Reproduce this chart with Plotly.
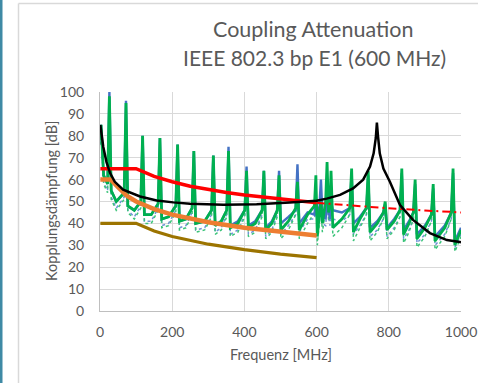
import plotly.graph_objects as go

# ---------------- data ----------------
f_meas = [1, 3, 10, 21, 26, 31, 45, 67, 72, 77, 95, 113, 118, 123, 142, 161, 166, 171, 190, 210,
          215, 220, 238, 255, 260, 265, 290, 309, 314, 319, 336, 351, 356, 361, 382, 401, 406, 411,
          430, 449, 454, 459, 476, 491, 496, 501, 522, 542, 547, 552, 575, 594, 598, 602, 608, 612,
          616, 625, 629, 633, 637, 640, 645, 670, 692, 697, 702, 720, 738, 743, 748, 768, 785, 790,
          795, 815, 831, 836, 841, 856, 868, 873, 878, 900, 918, 923, 928, 955, 973, 978, 983, 1000]

green = [78, 85, 62, 58, 98, 55, 50, 54, 95, 48, 46, 50, 80, 44, 44, 49, 79, 42, 43, 48,
         76, 41, 42, 47, 73, 40, 41, 46, 71, 39, 41, 46, 73, 38, 40, 46, 64, 38,
         40, 46, 64, 37, 40, 46, 62, 37, 41, 47, 59, 37, 44, 48, 62, 34, 45, 50,
         40, 50, 68, 45, 48, 64, 38, 42, 47, 65, 36, 42, 47, 64, 36, 40, 45, 50,
         37, 41, 46, 65, 35, 40, 45, 60, 33, 38, 44, 58, 32, 38, 45, 65, 30, 37]

blue = [78, 85, 62, 58, 100, 55, 50, 54, 96, 48, 46, 50, 80, 44, 44, 49, 79, 42, 43, 48,
        76, 41, 42, 47, 73, 40, 41, 46, 71, 39, 41, 46, 75, 39, 41, 46, 66, 39,
        41, 46, 64, 38, 41, 46, 64, 40, 43, 46, 67, 40, 45, 44, 50, 42, 48, 60,
        44, 42, 50, 46, 42, 50, 46, 45, 47, 63, 40, 43, 47, 62, 38, 41, 45, 49,
        38, 42, 46, 63, 37, 41, 45, 58, 35, 39, 44, 56, 34, 39, 45, 63, 32, 38]

green_dot = [76, 83, 58, 54, 95, 51, 46, 51, 92, 45, 42, 47, 77, 40, 40, 46, 76, 38, 39, 45,
             73, 37, 38, 44, 70, 36, 37, 43, 68, 35, 37, 43, 70, 34, 36, 43, 61, 34,
             36, 43, 61, 33, 36, 43, 59, 33, 37, 44, 56, 33, 40, 45, 59, 30, 41, 47,
             36, 46, 65, 41, 44, 61, 34, 38, 44, 62, 32, 38, 44, 61, 32, 36, 42, 47,
             33, 37, 43, 62, 31, 36, 42, 57, 29, 34, 41, 55, 28, 34, 42, 62, 27, 34]

blue_dot = [76, 83, 59, 55, 96, 52, 47, 52, 93, 46, 43, 48, 78, 41, 41, 47, 77, 39, 40, 46,
            74, 38, 39, 45, 71, 37, 38, 44, 69, 36, 38, 44, 72, 35, 37, 44, 63, 35,
            37, 44, 62, 34, 37, 44, 61, 35, 39, 44, 64, 36, 42, 42, 48, 38, 45, 57,
            40, 39, 47, 43, 39, 47, 42, 41, 44, 60, 35, 39, 44, 59, 34, 37, 42, 46,
            34, 38, 43, 60, 33, 37, 42, 55, 31, 35, 41, 53, 30, 35, 42, 60, 29, 35]

f_red = [1, 100, 150, 200, 250, 300, 350, 400, 450, 500, 550, 600]
red = [65, 65, 61.5, 59, 57, 55.5, 54.1, 53, 52, 51, 50.2, 49.4]

f_red_dash = [600, 700, 800, 900, 1000]
red_dash = [49.4, 48.1, 46.9, 45.9, 45]

f_orange = [1, 30, 50, 75, 100, 150, 200, 300, 400, 500, 600]
orange = [60, 60, 56.5, 52.5, 50, 46.5, 44, 40.5, 38, 36, 34.5]

f_brown = [1, 100, 150, 200, 300, 400, 500, 600]
brown = [40, 40, 36.5, 34, 30.5, 28, 26, 24.4]

f_black = [1, 9, 18, 28, 41, 64, 111, 157, 203, 249, 342, 434, 526, 600, 628, 665, 701, 729,
           748, 758, 764, 767, 770, 775, 785, 803, 831, 867, 914, 961, 997, 1000]
black = [85, 75, 68, 63, 59, 55.4, 52.3, 50.5, 49.6, 49, 48.5, 48.8, 49.6, 50.3, 51.3, 53, 56, 60,
         66, 72, 79, 86, 80, 72, 65, 59, 48.4, 41.6, 35.6, 32.4, 31.5, 31.4]

x_ticks = [0, 200, 400, 600, 800, 1000]
y_ticks = [0, 10, 20, 30, 40, 50, 60, 70, 80, 90, 100]

title_lines = ["Coupling Attenuation", "IEEE 802.3 bp E1 (600 MHz)"]
x_title = "Frequenz [MHz]"
y_title = "Kopplungsdämpfung [dB]"

# ---------------- figure ----------------
FONT = "Lato, 'Open Sans', sans-serif"
TXT = "#595959"

fig = go.Figure()
fig.add_trace(go.Scatter(x=f_meas, y=blue_dot, mode="lines",
                         line=dict(color="#6f93d6", width=1.5, dash="dot")))
fig.add_trace(go.Scatter(x=f_meas, y=green_dot, mode="lines",
                         line=dict(color="#3cc47a", width=1.5, dash="dot")))
fig.add_trace(go.Scatter(x=f_meas, y=blue, mode="lines",
                         line=dict(color="#4472c4", width=2.4)))
fig.add_trace(go.Scatter(x=f_meas, y=green, mode="lines",
                         line=dict(color="#00b050", width=2.8)))
fig.add_trace(go.Scatter(x=f_red, y=red, mode="lines",
                         line=dict(color="#ff0000", width=3.5)))
fig.add_trace(go.Scatter(x=f_red_dash, y=red_dash, mode="lines",
                         line=dict(color="#ff0000", width=2, dash="8px,4px,2px,4px")))
fig.add_trace(go.Scatter(x=f_brown, y=brown, mode="lines",
                         line=dict(color="#9c7400", width=3.2)))
fig.add_trace(go.Scatter(x=f_orange, y=orange, mode="lines",
                         line=dict(color="#ed7d31", width=4.5)))
fig.add_trace(go.Scatter(x=f_black, y=black, mode="lines",
                         line=dict(color="#000000", width=2.5)))

W, H = 478, 383
L, R, T, B = 100, 17, 92, 72
pw, ph = W - L - R, H - T - B


def px(xp):
    return (xp - L) / pw


def py(yp):
    return (H - B - yp) / ph


shapes = [
    dict(type="rect", xref="paper", yref="paper", x0=px(0), x1=px(2.5), y0=py(H), y1=py(0),
         fillcolor="#3f8aa5", line=dict(width=0), layer="below"),
    dict(type="line", xref="paper", yref="paper", x0=px(18.5), x1=px(W + 5), y0=py(3.5), y1=py(3.5),
         line=dict(color="#d9d9d9", width=1.5)),
    dict(type="line", xref="paper", yref="paper", x0=px(18.5), x1=px(18.5), y0=py(3.5), y1=py(H + 5),
         line=dict(color="#d9d9d9", width=1.5)),
]

annotations = [
    dict(text=title_lines[0], xref="paper", yref="paper", x=px(313), y=py(29),
         xanchor="center", yanchor="middle", showarrow=False,
         font=dict(family=FONT, size=21.5, color=TXT)),
    dict(text=title_lines[1], xref="paper", yref="paper", x=px(314), y=py(58),
         xanchor="center", yanchor="middle", showarrow=False,
         font=dict(family=FONT, size=21, color=TXT)),
    dict(text=x_title, xref="paper", yref="paper", x=px(281), y=py(354),
         xanchor="center", yanchor="middle", showarrow=False,
         font=dict(family=FONT, size=14.5, color=TXT)),
    dict(text=y_title, xref="paper", yref="paper", x=px(51), y=py(201),
         xanchor="center", yanchor="middle", showarrow=False, textangle=-90,
         font=dict(family=FONT, size=14.5, color=TXT)),
]

fig.update_layout(
    width=W, height=H,
    margin=dict(l=L, r=R, t=T, b=B, autoexpand=False),
    paper_bgcolor="white", plot_bgcolor="white",
    showlegend=False, hovermode=False,
    shapes=shapes, annotations=annotations,
    font=dict(family=FONT, size=14, color=TXT),
)
fig.update_xaxes(range=[0, 1000], tickvals=x_ticks, ticks="outside", ticklen=8,
                 tickcolor="rgba(0,0,0,0)", showgrid=True, automargin=False,
                 gridcolor="#d9d9d9", gridwidth=1, zeroline=False,
                 showline=True, linecolor="#bfbfbf", linewidth=1,
                 tickfont=dict(family=FONT, size=14, color=TXT))
fig.update_yaxes(range=[0, 100], tickvals=y_ticks, ticks="outside", ticklen=12,
                 tickcolor="rgba(0,0,0,0)", showgrid=True, automargin=False,
                 gridcolor="#d9d9d9", gridwidth=1, zeroline=False,
                 showline=True, linecolor="#bfbfbf", linewidth=1,
                 tickfont=dict(family=FONT, size=14, color=TXT))

fig.write_html("out.html", config={"displayModeBar": False},
               post_script="document.body.style.margin='0px';document.body.style.overflow='hidden';")
